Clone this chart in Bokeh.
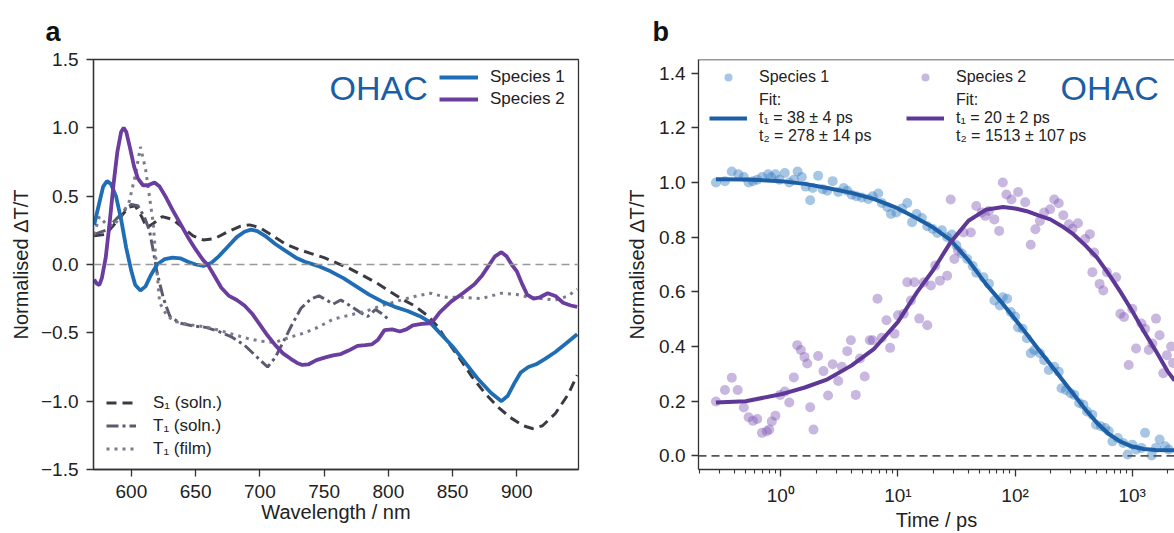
from bokeh.plotting import figure
from bokeh.models import (Label, Legend, LegendItem, Span, FixedTicker, ColumnDataSource)
from bokeh.layouts import row
from bokeh.embed import file_html
from bokeh.resources import INLINE

# ---------------- Panel a data (wavelength / nm, normalised dT/T) ----------------
wl_sp1 = [571, 575, 578, 581, 584, 588, 592, 596, 600, 603, 607, 611, 615, 620, 626, 632, 638, 644, 650,
          656, 662, 668, 675, 682, 688, 693, 698, 704, 712, 720, 728, 735, 745, 755, 765, 775, 785, 795,
          805, 815, 825, 832, 840, 850, 860, 870, 880, 888, 893, 898, 903, 909, 915, 922, 930, 938, 947]
sp1 = [0.29, 0.45, 0.57, 0.61, 0.59, 0.50, 0.33, 0.12, -0.05, -0.15, -0.19, -0.16, -0.08, 0.00, 0.04, 0.05,
       0.045, 0.02, 0.00, -0.01, 0.01, 0.06, 0.13, 0.20, 0.24, 0.255, 0.245, 0.21, 0.15, 0.10, 0.05, 0.02,
       -0.01, -0.05, -0.10, -0.16, -0.22, -0.27, -0.31, -0.34, -0.38, -0.42, -0.50, -0.60, -0.72, -0.84,
       -0.94, -1.00, -0.96, -0.87, -0.79, -0.75, -0.73, -0.69, -0.64, -0.58, -0.51]

wl_sp2 = [571, 573, 575, 577, 580, 583, 586, 589, 592, 594, 596, 599, 602, 605, 609, 613, 618, 622, 627,
          632, 638, 644, 650, 656, 660, 665, 670, 676, 682, 688, 694, 700, 706, 712, 718, 724, 729, 733,
          738, 744, 751, 757, 763, 769, 776, 782, 787, 792, 797, 803, 809, 814, 819, 826, 832, 836, 840,
          849, 858, 867, 873, 878, 883, 888, 892, 896, 900, 904, 908, 913, 918, 924, 930, 936, 942, 947]
sp2 = [-0.11, -0.14, -0.15, -0.10, 0.05, 0.30, 0.58, 0.82, 0.97, 1.00, 0.97, 0.85, 0.72, 0.63, 0.58, 0.58,
       0.60, 0.57, 0.49, 0.40, 0.30, 0.20, 0.11, 0.03, -0.01, -0.09, -0.17, -0.23, -0.26, -0.30, -0.36,
       -0.44, -0.52, -0.59, -0.65, -0.69, -0.72, -0.735, -0.73, -0.70, -0.68, -0.665, -0.655, -0.63,
       -0.595, -0.59, -0.585, -0.55, -0.48, -0.475, -0.49, -0.475, -0.445, -0.435, -0.43, -0.40, -0.35,
       -0.27, -0.21, -0.145, -0.08, -0.01, 0.06, 0.09, 0.06, 0.00, -0.05, -0.14, -0.22, -0.25, -0.24,
       -0.21, -0.23, -0.28, -0.30, -0.31]

wl_s1 = [571, 580, 590, 598, 603, 608, 612, 617, 624, 632, 640, 648, 656, 665, 675, 685, 692, 700, 710,
         720, 730, 740, 750, 760, 770, 780, 790, 800, 810, 820, 830, 838, 845, 855, 865, 875, 885, 895,
         905, 912, 920, 930, 940, 947]
s1_soln = [0.21, 0.22, 0.33, 0.42, 0.43, 0.35, 0.27, 0.30, 0.35, 0.33, 0.27, 0.21, 0.18, 0.19, 0.24, 0.28,
           0.29, 0.27, 0.21, 0.15, 0.11, 0.08, 0.05, 0.01, -0.03, -0.08, -0.13, -0.19, -0.25, -0.30,
           -0.37, -0.45, -0.55, -0.68, -0.82, -0.94, -1.04, -1.12, -1.18, -1.20, -1.18, -1.09, -0.95, -0.81]

wl_t1s = [571, 580, 588, 595, 600, 605, 610, 614, 617, 620, 625, 630, 638, 648, 658, 668, 678, 688, 698,
          706, 712, 718, 725, 732, 740, 746, 752, 757, 763, 770, 778, 784, 790, 795, 800]
t1_soln = [0.22, 0.25, 0.33, 0.40, 0.44, 0.43, 0.35, 0.25, 0.10, -0.06, -0.25, -0.38, -0.43, -0.45, -0.46,
           -0.49, -0.53, -0.59, -0.68, -0.75, -0.68, -0.57, -0.44, -0.32, -0.25, -0.23, -0.26, -0.29,
           -0.26, -0.30, -0.35, -0.38, -0.33, -0.36, -0.40]

wl_t1f = [571, 575, 580, 586, 592, 598, 603, 607, 611, 614, 617, 619, 622, 628, 635, 645, 660, 675, 690,
          700, 712, 724, 735, 745, 757, 770, 783, 795, 810, 822, 833, 845, 857, 872, 888, 900, 910, 920,
          930, 940, 947]
t1_film = [0.22, 0.35, 0.30, 0.28, 0.36, 0.45, 0.65, 0.86, 0.70, 0.50, 0.30, 0.05, -0.28, -0.38, -0.42,
           -0.44, -0.46, -0.50, -0.54, -0.56, -0.57, -0.53, -0.50, -0.46, -0.40, -0.37, -0.34, -0.30,
           -0.26, -0.23, -0.21, -0.24, -0.24, -0.25, -0.21, -0.22, -0.24, -0.25, -0.26, -0.23, -0.18]

# ---------------- Panel b data (time / ps, normalised dT/T) ----------------
t_sp1 = [0.279, 0.333, 0.381, 0.434, 0.483, 0.530, 0.577, 0.628, 0.690, 0.778, 0.824, 0.898, 0.973, 1.08,
         1.18, 1.29, 1.39, 1.51, 1.63, 1.78, 1.87, 2.08, 2.28, 2.49, 2.77, 3.09, 3.44, 3.69, 4.03, 4.42,
         4.91, 5.58, 6.08, 6.78, 7.28, 8.11, 8.71, 9.68, 10.8, 12.0, 13.2, 14.4, 16.0, 17.8, 19.8, 21.7,
         23.7, 26.3, 28.8, 31.5, 35.0, 39.0, 43.4, 46.6, 53.7, 59.8, 66.5, 74.1, 78.5, 85.5, 91.8, 100,
         106, 116, 126, 136, 146, 163, 177, 194, 216, 236, 249, 272, 298, 320, 352, 383, 411, 457, 491,
         540, 587, 631, 678, 753, 839, 914, 1002, 1079, 1199, 1288, 1466, 1596, 1714, 1910, 2051]
v_sp1 = [1.00, 1.005, 1.04, 1.03, 1.02, 1.00, 1.005, 1.01, 1.02, 1.03, 1.02, 1.03, 1.01, 1.035, 1.00, 1.01,
         1.04, 1.02, 0.985, 0.935, 0.98, 1.025, 0.975, 0.97, 1.005, 0.965, 0.98, 0.97, 0.955, 0.95, 0.945,
         0.94, 0.95, 0.96, 0.925, 0.91, 0.885, 0.89, 0.905, 0.925, 0.855, 0.885, 0.87, 0.84, 0.83, 0.815,
         0.825, 0.80, 0.81, 0.77, 0.74, 0.72, 0.695, 0.67, 0.653, 0.63, 0.568, 0.55, 0.58, 0.575, 0.526,
         0.51, 0.47, 0.465, 0.43, 0.375, 0.387, 0.375, 0.35, 0.314, 0.326, 0.308, 0.247, 0.241, 0.229,
         0.223, 0.193, 0.187, 0.162, 0.15, 0.114, 0.108, 0.102, 0.09, 0.053, 0.065, 0.047, 0.005, 0.041,
         0.023, 0.029, 0.084, 0.001, 0.029, 0.06, 0.035, 0.023]

t_sp2 = [0.279, 0.333, 0.381, 0.428, 0.483, 0.530, 0.577, 0.628, 0.690, 0.757, 0.796, 0.836, 0.898, 0.986,
         1.08, 1.18, 1.29, 1.38, 1.48, 1.59, 1.68, 1.78, 1.90, 2.08, 2.31, 2.53, 2.77, 3.09, 3.32, 3.69,
         3.96, 4.36, 4.74, 5.20, 5.75, 6.08, 6.68, 7.28, 7.98, 8.57, 9.35, 10.0, 11.2, 12.0, 12.9, 13.8,
         15.2, 16.6, 17.8, 19.1, 20.8, 22.8, 26.3, 28.2, 30.3, 32.6, 36.3, 41.9, 46.6, 51.9, 55.7, 59.8,
         66.5, 73.1, 78.5, 84.3, 93.1, 106, 122, 136, 149, 163, 177, 199, 216, 236, 258, 288, 309, 344,
         396, 435, 474, 457, 527, 566, 608, 728, 793, 851, 1002, 933, 1079, 1199, 1288, 1384, 1486, 1596,
         1714, 1977, 1841, 2150, 2230]
v_sp2 = [0.199, 0.241, 0.286, 0.241, 0.177, 0.141, 0.128, 0.135, 0.084, 0.09, 0.096, 0.126, 0.147, 0.223,
         0.235, 0.195, 0.287, 0.405, 0.387, 0.362, 0.338, 0.178, 0.096, 0.365, 0.31, 0.221, 0.335, 0.274,
         0.326, 0.383, 0.423, 0.223, 0.356, 0.29, 0.423, 0.423, 0.575, 0.432, 0.496, 0.395, 0.447, 0.514,
         0.52, 0.635, 0.568, 0.635, 0.502, 0.635, 0.478, 0.623, 0.696, 0.641, 0.659, 0.938, 0.72, 0.75,
         0.817, 0.817, 0.914, 0.89, 0.878, 0.896, 0.865, 0.823, 1.0, 0.956, 0.938, 0.965, 0.928, 0.772,
         0.829, 0.859, 0.89, 0.902, 0.938, 0.924, 0.88, 0.847, 0.831, 0.851, 0.793, 0.811, 0.744, 0.672,
         0.629, 0.605, 0.672, 0.653, 0.52, 0.508, 0.538, 0.332, 0.393, 0.484, 0.465, 0.387, 0.411, 0.502,
         0.441, 0.368, 0.302, 0.40, 0.34]

t_fit = [0.279, 0.5, 1.0, 1.6, 2.5, 4.0, 6.2, 10, 14.6, 20, 28, 40, 56, 79, 100, 126, 158, 200, 251, 316,
         398, 501, 631, 794, 1000, 1259, 1585, 2000, 2300]
fit_sp1 = [1.012, 1.011, 1.005, 0.995, 0.98, 0.962, 0.94, 0.905, 0.868, 0.835, 0.79, 0.715, 0.63, 0.555,
           0.50, 0.445, 0.39, 0.335, 0.28, 0.225, 0.17, 0.12, 0.08, 0.052, 0.034, 0.025, 0.021, 0.02, 0.02]
fit_sp2 = [0.195, 0.20, 0.225, 0.25, 0.28, 0.33, 0.39, 0.49, 0.60, 0.68, 0.78, 0.86, 0.90, 0.91, 0.905,
           0.895, 0.88, 0.865, 0.84, 0.81, 0.77, 0.725, 0.665, 0.60, 0.53, 0.455, 0.385, 0.31, 0.275]

wl_ticks = [600, 650, 700, 750, 800, 850, 900]
a_yticks = [-1.5, -1, -0.5, 0, 0.5, 1, 1.5]
a_ylabels = ["\u22121.5", "\u22121.0", "\u22120.5", "0.0", "0.5", "1.0", "1.5"]
b_yticks = [0, 0.2, 0.4, 0.6, 0.8, 1, 1.2, 1.4]
b_ylabels = ["0.0", "0.2", "0.4", "0.6", "0.8", "1.0", "1.2", "1.4"]
b_xticks = [1, 10, 100, 1000]
b_xlabels = ["10\u2070", "10\u00b9", "10\u00b2", "10\u00b3"]
b_xminor = [0.2, 0.3, 0.4, 0.5, 0.6, 0.7, 0.8, 0.9, 2, 3, 4, 5, 6, 7, 8, 9, 20, 30, 40, 50, 60, 70, 80, 90,
            200, 300, 400, 500, 600, 700, 800, 900, 2000]

FONT = "Liberation Sans"
INK = "#222222"
BLUE = "#1f6db4"
PURPLE = "#6b3d9f"
OHAC_C = "#1b5ea6"

H = 533
TOP = 59
BOTTOM = 63


def style_axes(p, tick_size="19px"):
    p.xgrid.visible = False
    p.ygrid.visible = False
    p.background_fill_color = "white"
    p.border_fill_color = "white"
    for ax in (p.xaxis[0], p.yaxis[0]):
        ax.axis_line_color = "#333333"
        ax.axis_line_width = 1.3
        ax.major_tick_line_color = "#333333"
        ax.major_tick_line_width = 1.3
        ax.major_tick_in = 0
        ax.major_tick_out = 7
        ax.minor_tick_in = 0
        ax.minor_tick_out = 0
        ax.major_label_text_font = FONT
        ax.major_label_text_font_size = tick_size
        ax.major_label_text_color = INK
        ax.axis_label_text_font = FONT
        ax.axis_label_text_font_size = "20px"
        ax.axis_label_text_font_style = "normal"
        ax.axis_label_text_color = INK


def panel_title(p, letter, offset):
    p.title.text = letter
    p.title.text_font = FONT
    p.title.text_font_size = "27px"
    p.title.text_font_style = "bold"
    p.title.text_color = "#111111"
    p.title.align = "left"
    p.title.offset = offset
    p.title.standoff = 25


# ---------------- Panel a ----------------
pa = figure(width=608, height=H, x_range=(570.5, 948), y_range=(-1.5, 1.5),
            output_backend="svg", toolbar_location=None,
            min_border_left=93, min_border_right=30, min_border_top=TOP, min_border_bottom=BOTTOM)
style_axes(pa)
panel_title(pa, "a", -48)
pa.outline_line_color = "#333333"
pa.outline_line_width = 1.3
pa.xaxis.ticker = FixedTicker(ticks=wl_ticks)
pa.yaxis.ticker = FixedTicker(ticks=a_yticks)
pa.yaxis.major_label_overrides = {k: v for k, v in zip(a_yticks, a_ylabels)}
pa.xaxis.axis_label = "Wavelength / nm"
pa.yaxis.axis_label = "Normalised \u0394T/T"
pa.xaxis.major_label_standoff = 8
pa.xaxis.axis_label_standoff = 0
pa.yaxis.major_label_standoff = 8
pa.yaxis.axis_label_standoff = 6

pa.add_layout(Span(location=0, dimension="width", line_color="#999999", line_width=1.6, line_dash="8 5"))

r_s1 = pa.line(wl_s1, s1_soln, line_color="#3a3a44", line_width=3, line_dash="10 6")
r_t1s = pa.line(wl_t1s, t1_soln, line_color="#5b5b70", line_width=3, line_dash="12 4 3 4")
r_t1f = pa.line(wl_t1f, t1_film, line_color="#7b7b8e", line_width=3, line_dash="3 5")
r_sp1 = pa.line(wl_sp1, sp1, line_color=BLUE, line_width=3.8)
r_sp2 = pa.line(wl_sp2, sp2, line_color=PURPLE, line_width=3.8)

leg_a1 = Legend(items=[LegendItem(label="Species 1", renderers=[r_sp1]),
                       LegendItem(label="Species 2", renderers=[r_sp2])],
                location=(346, 359), padding=0, margin=0, spacing=0,
                glyph_width=39, glyph_height=22, label_height=22, label_standoff=12,
                border_line_color=None, background_fill_alpha=0,
                label_text_font=FONT, label_text_font_size="17px", label_text_color=INK)
pa.add_layout(leg_a1)
leg_a2 = Legend(items=[LegendItem(label="S\u2081 (soln.)", renderers=[r_s1]),
                       LegendItem(label="T\u2081 (soln.)", renderers=[r_t1s]),
                       LegendItem(label="T\u2081 (film)", renderers=[r_t1f])],
                location=(13, 9), padding=0, margin=0, spacing=0,
                glyph_width=30, glyph_height=23, label_height=23, label_standoff=17,
                border_line_color=None, background_fill_alpha=0,
                label_text_font=FONT, label_text_font_size="17px", label_text_color=INK)
pa.add_layout(leg_a2)
pa.add_layout(Label(x=236, y=382, x_units="screen", y_units="screen", text="OHAC",
                    text_font=FONT, text_font_size="34px", text_color=OHAC_C, text_baseline="alphabetic"))

# ---------------- Panel b ----------------
pb = figure(width=1174 - 608, height=H, x_axis_type="log", x_range=(0.198, 2297), y_range=(-0.05, 1.45),
            output_backend="svg", toolbar_location=None,
            min_border_left=90, min_border_right=0, min_border_top=TOP, min_border_bottom=BOTTOM)
style_axes(pb)
panel_title(pb, "b", -46)
pb.outline_line_color = None
pb.xaxis.ticker = FixedTicker(ticks=b_xticks, minor_ticks=b_xminor)
pb.xaxis.major_label_overrides = {k: v for k, v in zip(b_xticks, b_xlabels)}
pb.xaxis.minor_tick_out = 4
pb.xaxis.minor_tick_line_color = "#333333"
pb.xaxis.minor_tick_line_width = 1.1
pb.yaxis.ticker = FixedTicker(ticks=b_yticks)
pb.yaxis.major_label_overrides = {k: v for k, v in zip(b_yticks, b_ylabels)}
pb.xaxis.axis_label = "Time / ps"
pb.yaxis.axis_label = "Normalised \u0394T/T"
pb.xaxis.major_label_standoff = 8
pb.xaxis.axis_label_standoff = 0
pb.yaxis.major_label_standoff = 6
pb.yaxis.axis_label_standoff = 8
pb.add_layout(Span(location=1.45, dimension="width", line_color="#333333", line_width=1.3))
pb.add_layout(Span(location=0, dimension="width", line_color="#555555", line_width=1.6, line_dash="8 5"))

src1 = ColumnDataSource(dict(t=t_sp1, v=v_sp1))
src2 = ColumnDataSource(dict(t=t_sp2, v=v_sp2))
r_pt1 = pb.scatter("t", "v", source=src1, size=10, fill_color="#3a80c4", fill_alpha=0.45, line_color=None)
r_pt2 = pb.scatter("t", "v", source=src2, size=10, fill_color="#8560b8", fill_alpha=0.45, line_color=None)
r_f1 = pb.line(t_fit, fit_sp1, line_color="#1c5fa6", line_width=4)
r_f2 = pb.line(t_fit, fit_sp2, line_color="#5e3896", line_width=4)

for items, vx in (([LegendItem(label="Species 1", renderers=[r_pt1]),
                    LegendItem(label="Fit:\nt\u2081 = 38 \u00b1 4 ps\nt\u2082 = 278 \u00b1 14 ps", renderers=[r_f1])], 11),
                  ([LegendItem(label="Species 2", renderers=[r_pt2]),
                    LegendItem(label="Fit:\nt\u2081 = 20 \u00b1 2 ps\nt\u2082 = 1513 \u00b1 107 ps", renderers=[r_f2])], 208)):
    lg = Legend(items=items, location=(vx, 324), padding=0, margin=0, spacing=4,
                glyph_width=38, glyph_height=20, label_height=20, label_standoff=12,
                border_line_color=None, background_fill_alpha=0,
                label_text_font=FONT, label_text_font_size="16px", label_text_color=INK,
                label_text_line_height=1.35)
    pb.add_layout(lg)

pb.add_layout(Label(x=362, y=382, x_units="screen", y_units="screen", text="OHAC",
                    text_font=FONT, text_font_size="34px", text_color=OHAC_C, text_baseline="alphabetic"))

layout = row(pa, pb, spacing=0)
open("out.html", "w").write(file_html(layout, INLINE))
